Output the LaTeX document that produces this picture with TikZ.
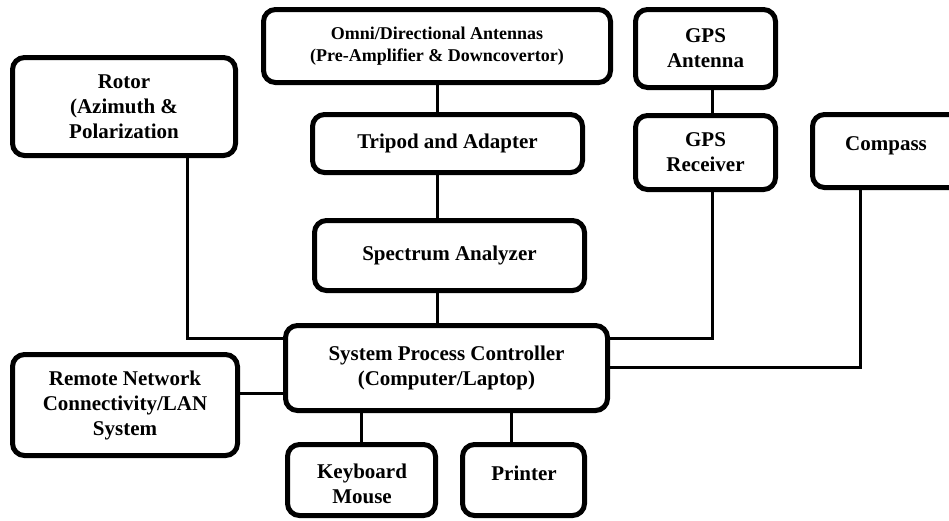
\documentclass[tikz,border=0pt]{standalone}
\usepackage{fontspec}
\setmainfont{Liberation Serif}
\begin{document}
\begin{tikzpicture}[x=1pt,y=-1pt,
  box/.style={draw, line width=5pt, rounded corners=12pt, inner sep=0pt, align=center,
              font=\fontsize{21}{25}\selectfont\bfseries},
  wire/.style={line width=3pt},
  lbl/.style={inner sep=0pt, align=center, font=\fontsize{21}{25}\selectfont\bfseries}]
\useasboundingbox (0,0) rectangle (949,520);
\clip (0,0) rectangle (949,520);

% boxes
\node[box, minimum width=223pt, minimum height=98pt] (rotor) at (124,106.5) {Rotor\\(Azimuth \&\\Polarization};
\node[box, minimum width=347pt, minimum height=73pt, font=\fontsize{18}{21.5}\selectfont\bfseries] (omni) at (437,46) {Omni/Directional Antennas\\(Pre-Amplifier \& Downcovertor)};
\node[box, minimum width=270pt, minimum height=58pt] (tripod) at (447.5,143.5) {Tripod and Adapter};
\node[box, minimum width=140pt, minimum height=78pt] (gpsa) at (705.5,48.5) {GPS\\Antenna};
\node[box, minimum width=140pt, minimum height=74pt] (gpsr) at (705.5,152.5) {GPS\\Receiver};
\node[box, minimum width=155pt, minimum height=73pt] (compass) at (890,151) {};
\node[lbl, anchor=base] (compasst) at (886,150) {Compass};
\node[box, minimum width=270pt, minimum height=70pt] (spec) at (449.5,255.5) {Spectrum Analyzer};
\node[box, minimum width=322pt, minimum height=85pt] (spc) at (446.5,368) {System Process Controller\\(Computer/Laptop)};
\node[box, minimum width=225pt, minimum height=101pt] (remote) at (125,405) {Remote Network\\Connectivity/LAN\\System};
\node[box, minimum width=148pt, minimum height=71pt] (kb) at (361.5,480) {};
\node[lbl] (kbt) at (362,484) {Keyboard\\Mouse};
\node[box, minimum width=122pt, minimum height=71pt] (printer) at (523.5,480) {};
\node[lbl, anchor=base] (printert) at (524,480) {Printer};

% helper coordinates
\coordinate (gx) at (712,0);
\coordinate (rx) at (187,0);
\coordinate (cx) at (860,0);
\coordinate (px) at (511,0);
\coordinate (ya) at (0,338);
\coordinate (yb) at (0,367);
\coordinate (yc) at (0,393);

% connectors
\draw[wire] (omni.south) -- (omni.south |- tripod.north);
\draw[wire] (tripod.south -| omni.south) -- (spec.north -| omni.south);
\draw[wire] (spec.south -| omni.south) -- (spc.north -| omni.south);
\draw[wire] (gpsa.south -| gx) -- (gpsr.north -| gx);
\draw[wire] (gpsr.south -| gx) |- (spc.east |- ya);
\draw[wire] (compass.south -| cx) |- (spc.east |- yb);
\draw[wire] (rotor.south -| rx) |- (spc.west |- ya);
\draw[wire] (remote.east |- yc) -- (spc.west |- yc);
\draw[wire] (spc.south -| kb.north) -- (kb.north);
\draw[wire] (spc.south -| px) -- (printer.north -| px);
\end{tikzpicture}
\end{document}
